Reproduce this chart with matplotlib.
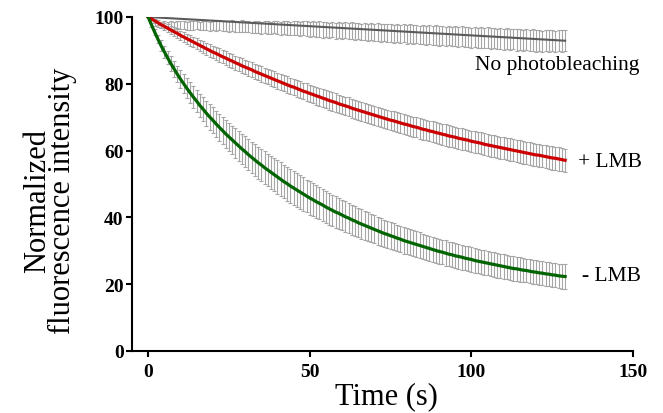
import numpy as np
import matplotlib
matplotlib.use("Agg")
import matplotlib.pyplot as plt

# ---------------- data ----------------
time_s = np.arange(0, 130)

# - LMB (green) mean values
minus_lmb = [
    100.0, 97.7, 95.5, 93.4, 91.4, 89.6, 87.8, 86.1, 84.5, 82.9,
    81.4, 80.0, 78.6, 77.3, 76.0, 74.8, 73.5, 72.4, 71.2, 70.1,
    69.1, 68.0, 67.0, 66.0, 65.0, 64.1, 63.2, 62.3, 61.4, 60.5,
    59.7, 58.8, 58.0, 57.2, 56.4, 55.7, 54.9, 54.2, 53.5, 52.8,
    52.1, 51.4, 50.7, 50.1, 49.4, 48.8, 48.2, 47.6, 47.0, 46.4,
    45.8, 45.3, 44.7, 44.2, 43.7, 43.1, 42.6, 42.1, 41.6, 41.2,
    40.7, 40.2, 39.8, 39.3, 38.9, 38.4, 38.0, 37.6, 37.2, 36.8,
    36.4, 36.0, 35.6, 35.2, 34.9, 34.5, 34.2, 33.8, 33.5, 33.1,
    32.8, 32.5, 32.2, 31.9, 31.6, 31.3, 31.0, 30.7, 30.4, 30.1,
    29.8, 29.6, 29.3, 29.0, 28.8, 28.5, 28.3, 28.1, 27.8, 27.6,
    27.4, 27.1, 26.9, 26.7, 26.5, 26.3, 26.1, 25.9, 25.7, 25.5,
    25.3, 25.1, 24.9, 24.7, 24.6, 24.4, 24.2, 24.1, 23.9, 23.7,
    23.6, 23.4, 23.3, 23.1, 23.0, 22.8, 22.7, 22.5, 22.4, 22.3,
]
minus_lmb_err = [
    0.0, 0.6, 1.0, 1.3, 1.6, 1.8, 2.0, 2.2, 2.4, 2.5,
    2.7, 2.8, 3.0, 3.1, 3.2, 3.3, 3.5, 3.6, 3.7, 3.8,
    3.9, 4.0, 4.0, 4.1, 4.2, 4.3, 4.3, 4.4, 4.5, 4.5,
    4.6, 4.6, 4.7, 4.7, 4.8, 4.8, 4.9, 4.9, 5.0, 5.0,
    5.0, 5.1, 5.0, 5.1, 5.1, 5.0, 5.1, 5.0, 5.0, 4.9,
    5.0, 4.9, 4.9, 4.8, 4.9, 4.8, 4.8, 4.7, 4.7, 4.6,
    4.6, 4.6, 4.5, 4.5, 4.4, 4.4, 4.4, 4.3, 4.3, 4.3,
    4.2, 4.2, 4.2, 4.1, 4.1, 4.1, 4.0, 4.0, 4.0, 4.0,
    3.9, 3.9, 3.9, 3.9, 3.9, 3.8, 3.8, 3.8, 3.8, 3.8,
    3.8, 3.7, 3.8, 3.7, 3.7, 3.7, 3.7, 3.7, 3.6, 3.7,
    3.6, 3.7, 3.6, 3.6, 3.7, 3.6, 3.6, 3.6, 3.7, 3.6,
    3.6, 3.5, 3.6, 3.6, 3.5, 3.6, 3.6, 3.5, 3.6, 3.6,
    3.5, 3.6, 3.6, 3.5, 3.6, 3.6, 3.5, 3.6, 3.7, 3.6,
]

# + LMB (red) mean values
plus_lmb = [
    100.0, 99.4, 98.9, 98.3, 97.7, 97.2, 96.7, 96.1, 95.6, 95.1,
    94.5, 94.0, 93.5, 93.0, 92.5, 92.0, 91.5, 91.0, 90.5, 90.0,
    89.5, 89.1, 88.6, 88.1, 87.7, 87.2, 86.8, 86.3, 85.9, 85.4,
    85.0, 84.6, 84.2, 83.7, 83.3, 82.9, 82.5, 82.1, 81.7, 81.3,
    80.9, 80.5, 80.1, 79.7, 79.3, 79.0, 78.6, 78.2, 77.8, 77.5,
    77.1, 76.8, 76.4, 76.1, 75.7, 75.4, 75.0, 74.7, 74.4, 74.0,
    73.7, 73.4, 73.1, 72.7, 72.4, 72.1, 71.8, 71.5, 71.2, 70.9,
    70.6, 70.3, 70.0, 69.7, 69.4, 69.1, 68.9, 68.6, 68.3, 68.0,
    67.8, 67.5, 67.2, 67.0, 66.7, 66.4, 66.2, 65.9, 65.7, 65.4,
    65.2, 64.9, 64.7, 64.4, 64.2, 64.0, 63.7, 63.5, 63.3, 63.1,
    62.8, 62.6, 62.4, 62.2, 61.9, 61.7, 61.5, 61.3, 61.1, 60.9,
    60.7, 60.5, 60.3, 60.1, 59.9, 59.7, 59.5, 59.3, 59.1, 58.9,
    58.7, 58.6, 58.4, 58.2, 58.0, 57.8, 57.7, 57.5, 57.3, 57.1,
]
plus_lmb_err = [
    0.0, 0.4, 0.6, 0.8, 0.9, 1.0, 1.1, 1.2, 1.3, 1.4,
    1.4, 1.5, 1.5, 1.6, 1.6, 1.7, 1.7, 1.8, 1.8, 1.9,
    1.9, 1.9, 2.0, 2.0, 2.0, 2.1, 2.1, 2.1, 2.1, 2.2,
    2.2, 2.2, 2.2, 2.3, 2.3, 2.3, 2.3, 2.3, 2.4, 2.4,
    2.4, 2.4, 2.4, 2.5, 2.5, 2.5, 2.5, 2.5, 2.5, 2.6,
    2.6, 2.6, 2.6, 2.6, 2.6, 2.7, 2.7, 2.7, 2.7, 2.7,
    2.7, 2.7, 2.8, 2.8, 2.8, 2.8, 2.8, 2.8, 2.8, 2.9,
    2.9, 2.9, 2.9, 2.9, 2.9, 2.9, 3.0, 3.0, 3.0, 3.0,
    3.0, 3.0, 3.0, 3.0, 3.1, 3.1, 3.1, 3.1, 3.1, 3.1,
    3.1, 3.1, 3.2, 3.2, 3.2, 3.2, 3.2, 3.2, 3.2, 3.2,
    3.2, 3.3, 3.2, 3.3, 3.3, 3.3, 3.3, 3.3, 3.3, 3.3,
    3.3, 3.3, 3.4, 3.3, 3.4, 3.4, 3.4, 3.4, 3.4, 3.4,
    3.4, 3.4, 3.4, 3.5, 3.4, 3.5, 3.4, 3.5, 3.5, 3.4,
]

# No photobleaching (gray) mean values
no_bleach = [
    100.0, 98.6, 97.9, 97.7, 97.6, 97.8, 97.5, 97.6, 97.4, 97.7,
    97.5, 97.6, 97.3, 97.5, 97.4, 97.6, 97.3, 97.4, 97.5, 97.2,
    97.4, 97.3, 97.5, 97.2, 97.3, 97.1, 97.4, 97.2, 97.0, 97.3,
    97.1, 97.2, 96.9, 97.1, 97.0, 96.8, 97.1, 96.9, 96.7, 97.0,
    96.8, 96.6, 96.9, 96.7, 96.5, 96.8, 96.6, 96.4, 96.7, 96.5,
    96.3, 96.6, 96.2, 96.4, 96.1, 96.3, 96.0, 96.2, 95.9, 96.1,
    95.8, 96.0, 95.7, 95.9, 95.6, 95.8, 95.5, 95.7, 95.4, 95.6,
    95.3, 95.5, 95.2, 95.4, 95.1, 95.3, 95.0, 95.2, 94.9, 95.1,
    94.8, 95.0, 94.7, 94.9, 94.6, 94.8, 94.5, 94.7, 94.4, 94.6,
    94.3, 94.5, 94.2, 94.4, 94.1, 94.3, 94.0, 94.2, 93.9, 94.1,
    93.8, 94.0, 93.7, 93.9, 93.6, 93.8, 93.5, 93.7, 93.4, 93.6,
    93.3, 93.5, 93.2, 93.4, 93.1, 93.3, 93.0, 93.2, 92.9, 93.1,
    92.8, 93.0, 92.7, 92.9, 92.8, 93.0, 92.7, 92.9, 92.8, 92.9,
]
no_bleach_err = [
    0.0, 0.5, 0.7, 0.8, 0.9, 1.0, 1.0, 1.1, 1.1, 1.1,
    1.2, 1.2, 1.2, 1.3, 1.3, 1.3, 1.3, 1.4, 1.4, 1.4,
    1.4, 1.5, 1.5, 1.5, 1.5, 1.6, 1.6, 1.6, 1.6, 1.7,
    1.7, 1.7, 1.7, 1.8, 1.8, 1.8, 1.8, 1.9, 1.9, 1.9,
    1.9, 2.0, 2.0, 2.0, 2.0, 2.1, 2.1, 2.1, 2.1, 2.2,
    2.2, 2.2, 2.2, 2.3, 2.3, 2.3, 2.3, 2.3, 2.4, 2.4,
    2.4, 2.4, 2.4, 2.5, 2.5, 2.5, 2.5, 2.5, 2.6, 2.6,
    2.6, 2.6, 2.6, 2.6, 2.7, 2.7, 2.7, 2.7, 2.7, 2.7,
    2.8, 2.8, 2.8, 2.8, 2.8, 2.8, 2.8, 2.9, 2.9, 2.9,
    2.9, 2.9, 2.9, 2.9, 2.9, 3.0, 3.0, 3.0, 3.0, 3.0,
    3.0, 3.0, 3.0, 3.1, 3.0, 3.1, 3.1, 3.0, 3.1, 3.1,
    3.1, 3.1, 3.1, 3.1, 3.2, 3.1, 3.1, 3.2, 3.1, 3.2,
    3.2, 3.1, 3.2, 3.2, 3.2, 3.2, 3.1, 3.2, 3.2, 3.2,
]
# straight fit line for the no-photobleaching control
no_bleach_fit_t = [0, 129]
no_bleach_fit_y = [100.0, 92.9]

x_ticks = [0, 50, 100, 150]
y_ticks = [0, 20, 40, 60, 80, 100]
series_labels = ["No photobleaching", "+ LMB", "- LMB"]

# ---------------- figure ----------------
serif = ["Liberation Serif", "DejaVu Serif"]
fig = plt.figure(figsize=(6.63, 4.14), dpi=100)
ax = fig.add_axes([132 / 663, 62 / 414, 501 / 663, 334 / 414])

err_kw = dict(fmt="none", ecolor="#a6a6a6", elinewidth=0.8,
              capsize=1.4, capthick=0.8, zorder=1)
ax.errorbar(time_s, no_bleach, yerr=no_bleach_err, **err_kw)
ax.errorbar(time_s, plus_lmb, yerr=plus_lmb_err, **err_kw)
ax.errorbar(time_s, minus_lmb, yerr=minus_lmb_err, **err_kw)

ax.plot(no_bleach_fit_t, no_bleach_fit_y, color="#5a5a5a", lw=1.5, zorder=3)
ax.plot(time_s, plus_lmb, color="#cc0000", lw=2.3, zorder=3)
ax.plot(time_s, minus_lmb, color="#006400", lw=2.3, zorder=3)

ax.set_xlim(-5, 150)
ax.set_ylim(0, 100)
ax.set_xticks(x_ticks)
ax.set_yticks(y_ticks)
for s in ["top", "right"]:
    ax.spines[s].set_visible(False)
for s in ["left", "bottom"]:
    ax.spines[s].set_linewidth(1.5)
ax.tick_params(axis="both", direction="out", length=4.5, width=1.5,
               labelsize=14)
ax.tick_params(axis="x", pad=4)
ax.tick_params(axis="y", pad=1.5)
for lab in ax.get_xticklabels() + ax.get_yticklabels():
    lab.set_family(serif)
    lab.set_fontweight("bold")

# series labels
ax.text(101.1, 85.9, series_labels[0], family=serif, fontsize=15.5,
        ha="left", va="center", clip_on=False)
ax.text(133.0, 56.6, series_labels[1], family=serif, fontsize=15.5,
        ha="left", va="center", clip_on=False)
ax.text(134.3, 22.5, series_labels[2], family=serif, fontsize=15.5,
        ha="left", va="center", clip_on=False)

# axis titles
fig.text(386 / 663, 1 - 397 / 414, "Time (s)", family=serif, fontsize=22,
         ha="center", va="center")
fig.text(50 / 663, 1 - 201 / 414, "Normalized\nfluorescence intensity",
         family=serif, fontsize=22, rotation=90, ha="center", va="center",
         multialignment="center", linespacing=0.85)

fig.savefig("out.png", dpi=100)
